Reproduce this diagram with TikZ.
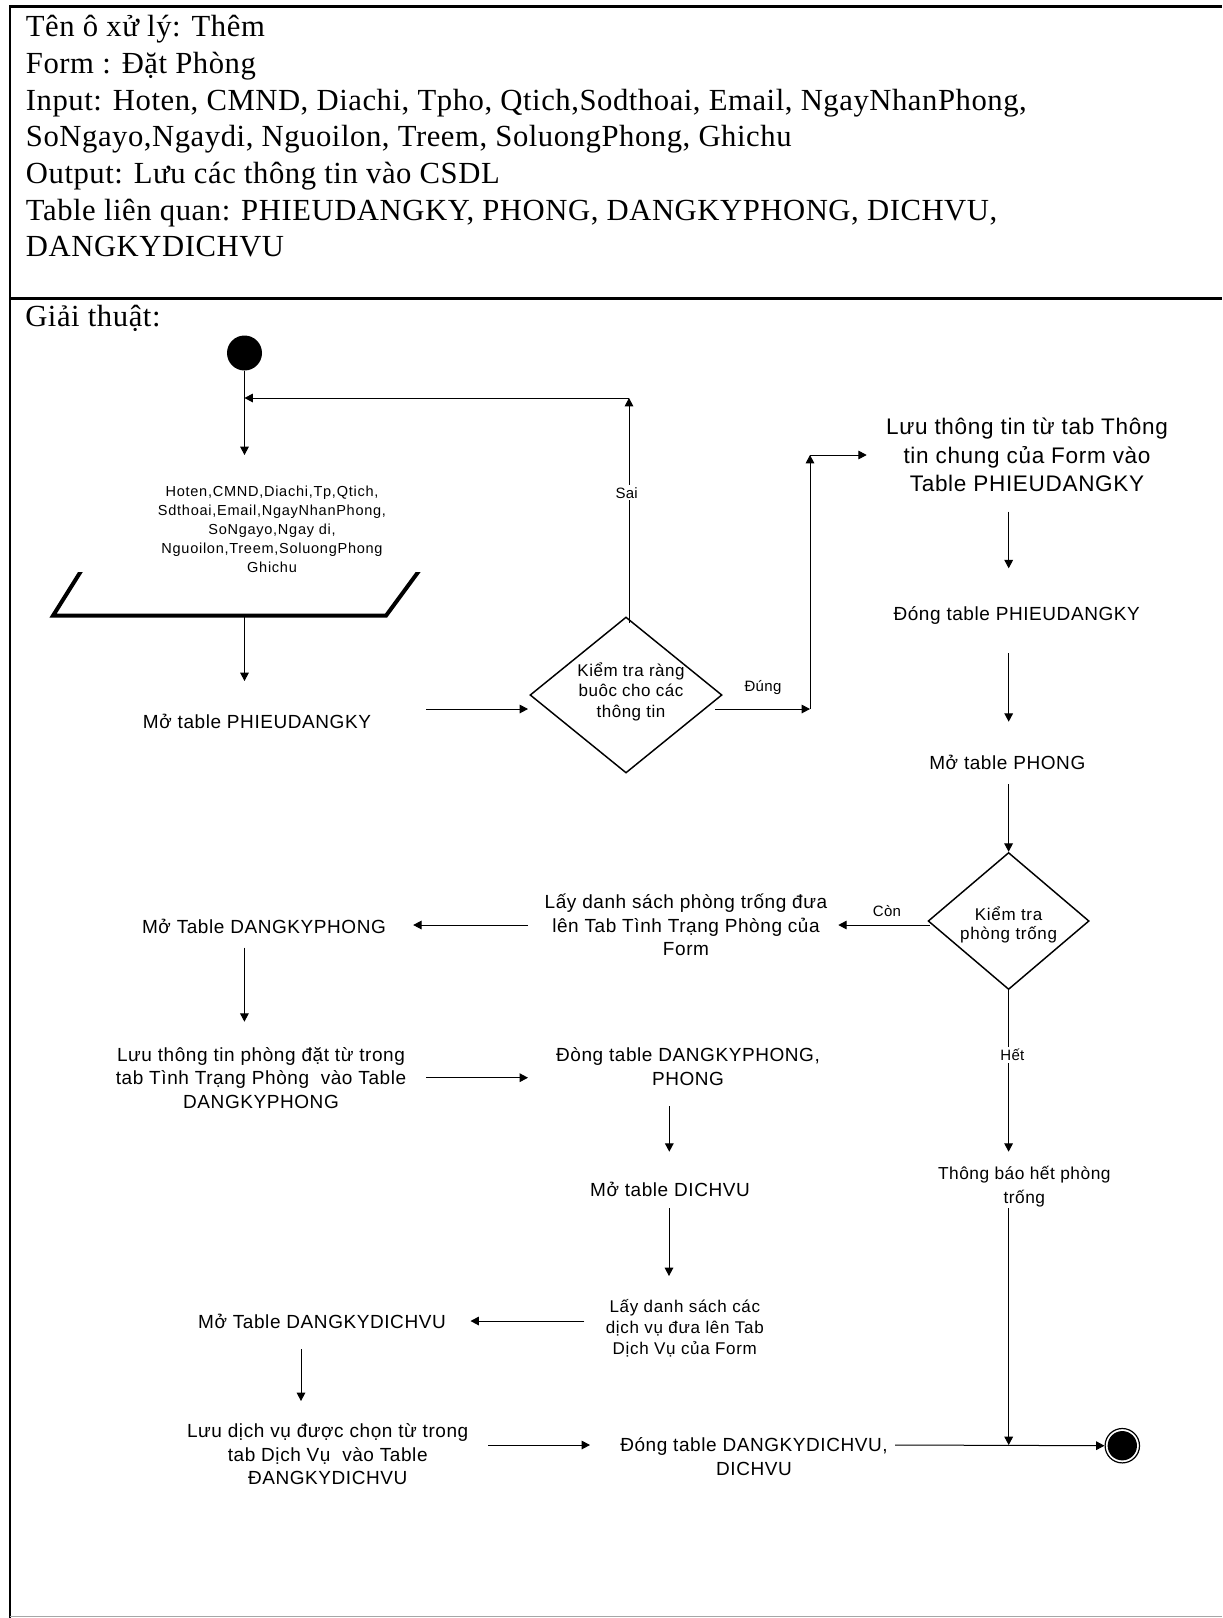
\documentclass[tikz,border=0pt]{standalone}
\usepackage{fontspec}
\setmainfont{Liberation Serif}
\newfontfamily\hdrfont{Liberation Serif}[LetterSpace=1.8]
\newfontfamily\sfA{Liberation Sans}[LetterSpace=3]
\newfontfamily\sfB{Liberation Sans}[LetterSpace=4]
\newfontfamily\sfC{Liberation Sans}[LetterSpace=5]
\newfontfamily\sfD{Liberation Sans}[LetterSpace=2]
\usetikzlibrary{arrows.meta,shapes.geometric}
\begin{document}
\begin{tikzpicture}[x=0.75pt,y=-0.75pt,
  arr/.style={line width=0.75pt,-{Triangle[length=6.3pt,width=6.5pt]}},
  hdr/.style={anchor=base west,inner sep=0pt,font={\hdrfont\fontsize{23pt}{27pt}\selectfont}},
  txtL/.style={align=center,inner sep=0pt,font={\sfA\fontsize{16.9pt}{21.15pt}\selectfont}},
  txtM/.style={align=center,inner sep=0pt,font={\sfA\fontsize{14.25pt}{17.6pt}\selectfont}},
  txtS/.style={align=center,inner sep=0pt,font={\sfC\fontsize{10.9pt}{14.25pt}\selectfont}},
  txtDa/.style={align=center,inner sep=0pt,font={\sfA\fontsize{12.75pt}{15.4pt}\selectfont}},
  txtDb/.style={align=center,inner sep=0pt,font={\sfB\fontsize{12.75pt}{14.25pt}\selectfont}},
  txtLay/.style={align=center,inner sep=0pt,font={\sfB\fontsize{12.75pt}{15.5pt}\selectfont}},
  txtTb/.style={align=center,inner sep=0pt,font={\sfA\fontsize{13pt}{17.5pt}\selectfont}},
  lbl/.style={inner sep=1.5pt,fill=white,font={\sfD\fontsize{11.25pt}{13pt}\selectfont}},
  dia/.style={diamond,draw,line width=1.1pt,inner sep=0pt},
  startc/.style={circle,fill=black,inner sep=0pt,minimum size=26.25pt},
  endc/.style={circle,draw,line width=0.9pt,inner sep=0pt,minimum size=25.8pt}
]
\useasboundingbox (0,0) rectangle (1222,1618);
\fill[white] (0,0) rectangle (1222,1618);
% frame
\draw[line width=1.9pt] (10,1618) -- (10,6.5) -- (1222,6.5);
\draw[line width=2.2pt] (10,298.5) -- (1222,298.5);
\draw[line width=1pt,black!35] (10,1616.5) -- (1222,1616.5);
% header
\node[hdr] (h1) at (25.7,36.7) {Tên ô xử lý: Thêm};
\node[hdr] (h2) at (25.7,73.4) {Form : Đặt Phòng};
\node[hdr] (h3) at (25.7,110) {Input: Hoten, CMND, Diachi, Tpho, Qtich,Sodthoai, Email, NgayNhanPhong,};
\node[hdr] (h4) at (25.7,146.7) {SoNgayo,Ngaydi, Nguoilon, Treem, SoluongPhong, Ghichu};
\node[hdr] (h5) at (25.7,183.4) {Output: Lưu các thông tin vào CSDL};
\node[hdr] (h6) at (25.7,220) {Table liên quan: PHIEUDANGKY, PHONG, DANGKYPHONG, DICHVU,};
\node[hdr] (h7) at (25.7,256.8) {DANGKYDICHVU};
\node[hdr] (gt) at (25,326.7) {Giải thuật:};
% start
\node[startc] (start) at (244.5,353) {};
\coordinate (m0) at (244.5,398);
\coordinate (a1) at (244.5,455);
\draw[arr] (start.south) -- (a1);
\node[txtS] (inp) at (272,529.7) {Hoten,CMND,Diachi,Tp,Qtich,\\Sdthoai,Email,NgayNhanPhong,\\SoNgayo,Ngay di,\\Nguoilon,Treem,SoluongPhong\\Ghichu};
\begin{scope}
\clip (0,572.7) rectangle (1222,640);
\draw[line width=3pt,line join=miter] (84.8,565) -- (53,615.7) -- (386,615.7) -- (423.3,565);
\end{scope}
\coordinate (p0) at (244.5,615.7);
\coordinate (a2) at (244.5,681);
\draw[arr] (p0) -- (a2);
\node[txtM] (mo1) at (257,721) {Mở table PHIEUDANGKY};
\coordinate (b0) at (426,709);
\coordinate (b1) at (528,709);
\draw[arr] (b0) -- (b1);
% decision 1
\node[dia,minimum width=144pt,minimum height=117pt] (d1) at (626,695) {};
\node[txtDa] (d1t) at (631,691.5) {Kiểm tra ràng\\buôc cho các\\thông tin};
\coordinate (s0) at (629,623);
\coordinate (s1) at (629,398);
\draw[arr] (s0) -- (s1);
\draw[arr] (s1) -- (m0);
\node[lbl] (sai) at (626.7,492.7) {Sai};
\coordinate (u0) at (715,709);
\coordinate (u1) at (810,709);
\coordinate (u2) at (810,455);
\coordinate (u3) at (866.7,455);
\draw[arr] (u0) -- (u1);
\draw[arr] (u1) -- (u2);
\draw[arr] (u2) -- (u3);
\node[lbl] (dung) at (763,688) {Đúng};
% right column
\node[txtL] (luu1) at (1027,455) {Lưu thông tin từ tab Thông\\tin chung của Form vào\\Table PHIEUDANGKY};
\coordinate (r0) at (1008.7,511.7);
\coordinate (r1) at (1008.7,568.3);
\draw[arr] (r0) -- (r1);
\node[txtM] (dong1) at (1016.7,615) {Đóng table PHIEUDANGKY};
\coordinate (r2) at (1008.7,653);
\coordinate (r3) at (1008.7,721.7);
\draw[arr] (r2) -- (r3);
\node[txtM] (mo2) at (1007.3,762.7) {Mở table PHONG};
\node[dia,minimum width=120.75pt,minimum height=102.75pt] (d2) at (1008.6,921) {};
\node[txtDb] (d2t) at (1008.6,925) {Kiểm tra\\phòng trống};
\coordinate (r4) at (1008.6,784);
\draw[arr] (r4) -- (d2.north);
\coordinate (c0) at (929.6,925);
\coordinate (c1) at (838.3,925);
\draw[arr] (c0) -- (c1);
\node[lbl] (con) at (887,910.7) {Còn};
\node[txtM] (lay1) at (686,925) {Lấy danh sách phòng trống đưa\\lên Tab Tình Trạng Phòng của\\Form};
\coordinate (f0) at (528,925);
\coordinate (f1) at (413.2,925);
\draw[arr] (f0) -- (f1);
\node[txtM] (mo3) at (264,926.7) {Mở Table DANGKYPHONG};
\coordinate (g0) at (244.4,947.7);
\coordinate (g1) at (244.4,1021.7);
\draw[arr] (g0) -- (g1);
\node[txtM] (luu2) at (261,1077.7) {Lưu thông tin phòng đặt từ trong\\tab Tình Trạng Phòng\ \ vào Table\\DANGKYPHONG};
\coordinate (k0) at (426,1077.7);
\coordinate (k1) at (528,1077.7);
\draw[arr] (k0) -- (k1);
\node[txtM] (dong2) at (688,1066.7) {Đòng table DANGKYPHONG,\\PHONG};
\coordinate (k2) at (669.3,1106);
\coordinate (k3) at (669.3,1151.7);
\draw[arr] (k2) -- (k3);
\node[txtM] (mo4) at (670,1189.3) {Mở table DICHVU};
\coordinate (k4) at (669,1208.3);
\coordinate (k5) at (669,1276);
\draw[arr] (k4) -- (k5);
\node[txtLay] (lay2) at (684.8,1328.3) {Lấy danh sách các\\dịch vụ đưa lên Tab\\Dịch Vụ của Form};
\coordinate (n0) at (584.4,1321);
\coordinate (n1) at (470.5,1321);
\draw[arr] (n0) -- (n1);
\node[txtM] (mo5) at (322,1321.7) {Mở Table DANGKYDICHVU};
\coordinate (n2) at (301,1349.3);
\coordinate (n3) at (301,1401);
\draw[arr] (n2) -- (n3);
\node[txtM] (luu3) at (327.7,1454.3) {Lưu dịch vụ được chọn từ trong\\tab Dịch Vụ\ \ vào Table\\ĐANGKYDICHVU};
\coordinate (n4) at (488.4,1445);
\coordinate (n5) at (590,1445);
\draw[arr] (n4) -- (n5);
\node[txtM] (dong3) at (754,1456.7) {Đóng table DANGKYDICHVU,\\DICHVU};
\node[endc] (endn) at (1122.3,1445.7) {};
\fill (endn.center) circle (11pt);
\coordinate (e0) at (895,1445);
\draw[arr] (e0) -- (endn.west);
% Het branch
\coordinate (h0) at (1008.6,1151.7);
\draw[arr] (d2.south) -- (h0);
\node[lbl] (het) at (1012.4,1055) {Hết};
\node[txtTb] (thong) at (1024.3,1186.7) {Thông báo hết phòng\\trống};
\coordinate (t0) at (1008.7,1208.3);
\coordinate (t1) at (1008.7,1445);
\draw[arr] (t0) -- (t1);
\end{tikzpicture}
\end{document}
